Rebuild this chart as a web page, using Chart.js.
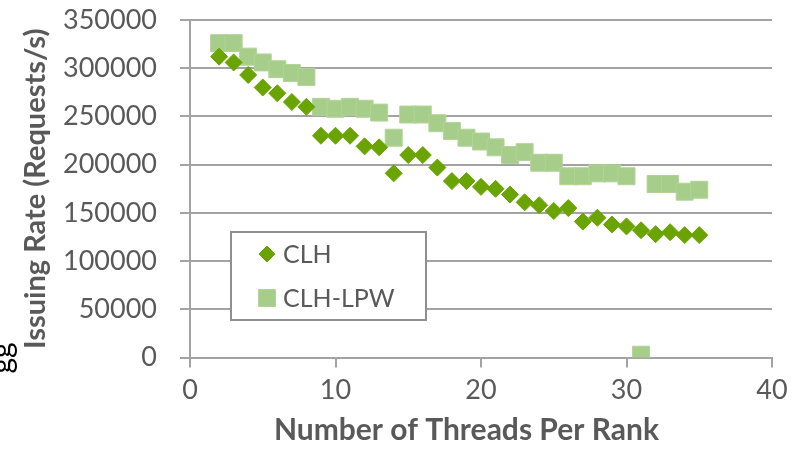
<!DOCTYPE html>
<html>
<head>
<meta charset="utf-8">
<script src="https://cdn.jsdelivr.net/npm/chart.js@4"></script>
<style>
  html, body { margin: 0; padding: 0; background: #fff; }
  #wrap { position: relative; width: 800px; height: 450px; }
</style>
</head>
<body>
<div id="wrap"><canvas id="chart" width="800" height="450"></canvas></div>
<script>
// threads per rank and issuing rate (requests/s)
const threads = [2, 3, 4, 5, 6, 7, 8, 9, 10, 11, 12, 13, 14, 15, 16, 17, 18,
  19, 20, 21, 22, 23, 24, 25, 26, 27, 28, 29, 30, 31, 32, 33, 34, 35];
const clh = [312000, 306000, 293000, 280000, 274000, 265000, 260000, 230000,
  230000, 230000, 219000, 218000, 191000, 210000, 210000, 197000, 183000,
  183000, 177000, 175000, 169000, 161000, 158000, 152000, 155000, 141000,
  145000, 138000, 136000, 132000, 128000, 130000, 127000, 127000];
const clhLpw = [326000, 326000, 312000, 306000, 299000, 295000, 291000,
  260000, 258000, 260000, 258000, 254000, 228000, 252000, 252000, 243000,
  235000, 228000, 224000, 218000, 210000, 213000, 202000, 202000, 188000,
  188000, 191000, 191000, 188000, 3000, 180000, 180000, 172000, 174000];
const xTicks = [0, 10, 20, 30, 40];
const yTicks = [0, 50000, 100000, 150000, 200000, 250000, 300000, 350000];

const FONT = "Lato, 'Open Sans', sans-serif";
const GREY = "#595959";
const LINE = "#a3a3a3";
const PAD_LEFT = 18;

function toPoints(ys) {
  return threads.map((x, i) => ({ x, y: ys[i] }));
}

// legend box drawn inside the plot area, like the spreadsheet original
const boxLegend = {
  id: "boxLegend",
  afterDraw(chart) {
    const ctx = chart.ctx;
    const left = 231, top = 232, w = 195, h = 88;
    ctx.save();
    ctx.fillStyle = "#fff";
    ctx.fillRect(left, top, w, h);
    ctx.strokeStyle = "#8f8f8f";
    ctx.lineWidth = 2;
    ctx.strokeRect(left, top, w, h);
    ctx.font = "25px " + FONT;
    ctx.textBaseline = "middle";
    chart.data.datasets.forEach((ds, i) => {
      const cy = top + 22 + i * 44;
      ctx.fillStyle = ds.backgroundColor;
      ctx.strokeStyle = ds.borderColor;
      ctx.lineWidth = 1;
      Chart.helpers.drawPoint(ctx, {
        pointStyle: ds.pointStyle,
        radius: ds.pointStyle === "rect" ? 12 : 8,
        borderWidth: 1
      }, 267, cy);
      ctx.fillStyle = GREY;
      ctx.fillText(ds.label, 283, cy + 1);
    });
    ctx.restore();

    // clipped fragment at the left edge
    ctx.save();
    ctx.translate(12, 358);
    ctx.rotate(-Math.PI / 2);
    ctx.fillStyle = "#000";
    ctx.font = "30px " + FONT;
    ctx.textAlign = "center";
    ctx.textBaseline = "alphabetic";
    ctx.fillText("gg", 0, 0);
    ctx.restore();
  }
};

new Chart(document.getElementById("chart"), {
  type: "scatter",
  data: {
    datasets: [
      {
        label: "CLH",
        data: toPoints(clh),
        pointStyle: "rectRot",
        pointRadius: 8.5,
        pointHoverRadius: 8.5,
        backgroundColor: "#6aa402",
        borderColor: "#6aa402",
        borderWidth: 1
      },
      {
        label: "CLH-LPW",
        data: toPoints(clhLpw),
        pointStyle: "rect",
        pointRadius: 12,
        pointHoverRadius: 12,
        backgroundColor: "#a6cd89",
        borderColor: "#b2d498",
        borderWidth: 1
      }
    ]
  },
  options: {
    responsive: false,
    animation: false,
    layout: { padding: { left: PAD_LEFT, right: 28, top: 20, bottom: 0 } },
    plugins: {
      legend: { display: false },
      tooltip: { enabled: false }
    },
    scales: {
      x: {
        type: "linear",
        min: 0,
        max: 40,
        afterBuildTicks: s => { s.ticks = xTicks.map(v => ({ value: v })); },
        border: { color: LINE, width: 2 },
        grid: { drawOnChartArea: false, drawTicks: true, tickLength: 10, color: LINE, lineWidth: 2 },
        ticks: { color: GREY, font: { family: FONT, size: 27 }, padding: 6, callback: v => String(v) },
        title: {
          display: true,
          // trailing spaces nudge the centred title a little to the left
          text: "Number of Threads Per Rank\u00a0\u00a0\u00a0\u00a0",
          color: GREY,
          font: { family: FONT, size: 30, weight: "bold" },
          padding: { top: 0, bottom: 2 }
        }
      },
      y: {
        min: 0,
        max: 350000,
        afterBuildTicks: s => { s.ticks = yTicks.map(v => ({ value: v })); },
        afterFit: s => {
          s.width = 190 - PAD_LEFT;
          s.paddingTop = 0;
          s.paddingBottom = 0;
        },
        border: { color: LINE, width: 2 },
        grid: { color: LINE, lineWidth: 2, drawTicks: true, tickLength: 10 },
        ticks: { color: GREY, font: { family: FONT, size: 27 }, padding: 23, callback: v => String(v) },
        title: {
          display: true,
          text: "Issuing Rate (Requests/s)",
          color: GREY,
          font: { family: FONT, size: 29, weight: "bold" },
          padding: { top: 0, bottom: 8 }
        }
      }
    }
  },
  plugins: [boxLegend]
});
</script>
</body>
</html>
